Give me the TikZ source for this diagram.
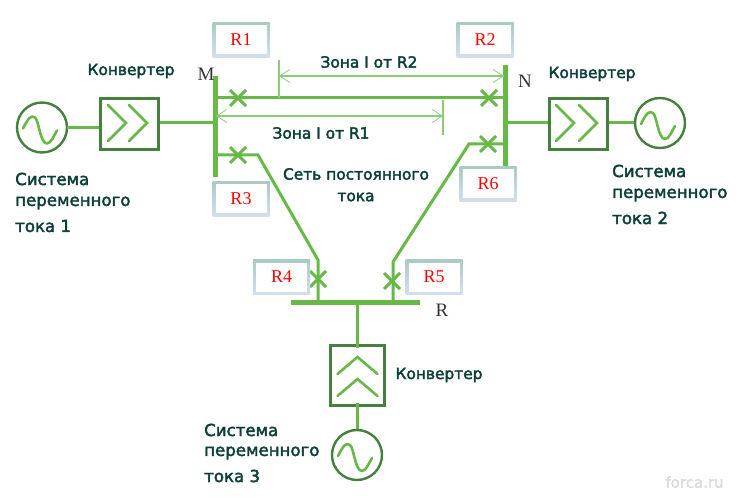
\documentclass[tikz,border=0pt]{standalone}
\usepackage{fontspec}
\setmainfont{DejaVu Sans}
\newfontfamily\serifface{Liberation Serif}
\newfontfamily\labelface[FakeBold=2.4]{DejaVu Sans}
\usetikzlibrary{arrows.meta}
\definecolor{wire}{HTML}{68B848}
\definecolor{darkbox}{HTML}{46803F}
\definecolor{inktext}{HTML}{0B3F38}
\definecolor{relaytop}{HTML}{A9CBC3}
\definecolor{relaybot}{HTML}{D3E0EF}
\definecolor{zone}{HTML}{8CCB7A}
\tikzset{
  wireline/.style={draw=wire,line width=3pt},
  busbar/.style={draw=wire,line width=5pt},
  breaker/.style={draw=wire,line width=3pt},
  convbox/.style={draw=darkbox,line width=2.4pt,fill=white,minimum width=58pt,minimum height=51pt,inner sep=0pt},
  acsource/.style={circle,draw=darkbox,line width=2.4pt,fill=white,minimum size=50pt,inner sep=0pt},
  relaybox/.style={top color=relaytop,bottom color=relaybot,minimum width=57pt,minimum height=35pt,inner sep=0pt,text=red,font=\serifface\fontsize{18}{18}\selectfont,
    path picture={\fill[white] ([shift={(3,3)}]path picture bounding box.north west) rectangle ([shift={(-3,-3)}]path picture bounding box.south east);}},
  caption/.style={text=inktext,font=\labelface\fontsize{15.4}{15.4}\selectfont,inner sep=0pt},
  sysline/.style={text=inktext,font=\labelface\fontsize{16.6}{16.6}\selectfont,inner sep=0pt,anchor=west},
  buslabel/.style={text=black!80,inner sep=0pt,font=\serifface\fontsize{19}{19}\selectfont},
  zoneline/.style={draw=zone,line width=1.1pt},
  zonearrow/.style={zoneline,-{Straight Barb[length=10pt,width=13pt,line width=.8pt]}},
}
% Cross marking a breaker on a line
\newcommand{\breakermark}[1]{\draw[breaker] ([shift={(-8,-8)}]#1) -- ([shift={(8,8)}]#1) ([shift={(-8,8)}]#1) -- ([shift={(8,-8)}]#1);}
% Sine wave inside an AC source
\newcommand{\sinewave}[1]{\draw[wire,line width=2.6pt,line cap=round,line join=round,shift={(#1)}]
  (-19,1) .. controls (-14,-9) and (-11,-13) .. (-7,-10) .. controls (-3,-7) and (-2,16) .. (5,16) .. controls (9,16) and (12,8) .. (15,3);}
\newcommand{\chevron}[3]{\draw[wire,line width=2.6pt,line cap=round,shift={(#1)}] #2 -- (0,0) -- #3;}
\begin{document}
\begin{tikzpicture}[x=1pt,y=-1pt]
\useasboundingbox (0,0) rectangle (739,497);

% Buses
\coordinate (mtop) at (215,76); \coordinate (mbot) at (215,177);
\coordinate (ntop) at (505,65); \coordinate (nbot) at (505,166);
\coordinate (rleft) at (291,302.5); \coordinate (rright) at (420,302.5);
\coordinate (m1) at (215,98);  \coordinate (n1) at (505,98);
\coordinate (m2) at (215,123); \coordinate (n2) at (505,123);
\coordinate (m3) at (215,155); \coordinate (n3) at (505,144);
\coordinate (r4) at (318,302.5); \coordinate (r5) at (393,302.5);
\coordinate (r0) at (357,302.5);
\coordinate (bend3) at (258,155); \coordinate (bend4) at (318,260);
\coordinate (bend6) at (469,144); \coordinate (bend5) at (393,262);

% Converters and sources
\node[acsource] (s1) at (42,127.5) {};
\node[convbox] (c1) at (129.5,124) {};
\node[acsource] (s2) at (660,123) {};
\node[convbox] (c2) at (578.5,124) {};
\node[acsource] (s3) at (357,455) {};
\node[convbox,minimum width=54pt,minimum height=60pt] (c3) at (357.5,375.5) {};

% Lines
\draw[wireline] (s1) ++(25,0) -- (s1-|c1.west);
\draw[wireline] (m2) -- (m2-|c1.east);
\draw[wireline] (n2) -- (n2-|c2.west);
\draw[wireline] (n2-|c2.east) -- (s2.west);
\draw[wireline] (m1) -- (n1);
\draw[wireline] (m3) -- (bend3) -- (bend4) -- (r4);
\draw[wireline] (n3) -- (bend6) -- (bend5) -- (r5);
\draw[wireline] (r0) -- ([yshift=-4pt]r0|-c3.north);
\draw[wireline] ([xshift=-.5pt,yshift=4pt]c3.south) -- (s3.north);
\draw[busbar] (mtop) -- (mbot);
\draw[busbar] (ntop) -- (nbot);
\draw[busbar] (rleft) -- (rright);

% Breakers
\coordinate (b1) at (238,98);  \breakermark{b1}
\coordinate (b2) at (489,98);  \breakermark{b2}
\coordinate (b3) at (238,155); \breakermark{b3}
\coordinate (b4) at (318,279); \breakermark{b4}
\coordinate (b5) at (392,281); \breakermark{b5}
\coordinate (b6) at (488,144); \breakermark{b6}

% Sine waves
\sinewave{s1}
\sinewave{s2}
\sinewave{s3}

% Converter symbols
\foreach \a in {126,147}{\coordinate (p) at (\a,123); \chevron{p}{(-18,-18)}{(-18,18)}}
\foreach \a in {574,597}{\coordinate (p) at (\a,123); \chevron{p}{(-18,-18)}{(-18,18)}}
\foreach \a in {357,379}{\coordinate (p) at (357.5,\a); \chevron{p}{(-20,17)}{(20,17)}}

% Relay boxes
\node[relaybox] (R1) at (241,40) {R1};
\node[relaybox] (R2) at (485,40) {R2};
\node[relaybox] (R3) at (241,199) {R3};
\node[relaybox] (R4) at (281.5,277) {R4};
\node[relaybox] (R5) at (434,277) {R5};
\node[relaybox] (R6) at (488,184) {R6};

% Protection zones
\coordinate (z2a) at (279,76); \coordinate (z2b) at (504,76);
\coordinate (z1a) at (443,116); \coordinate (z1b) at (216,116);
\draw[zoneline] (279,60) -- (279,98);
\draw[zoneline] (443,100) -- (443,135);
\draw[zonearrow] (z2a) -- (z2b);
\draw[zonearrow] (z2b) -- (z2a);
\draw[zonearrow] (z1a) -- (z1b);
\draw[zonearrow] (z1b) -- (z1a);

% Text
\node[caption] (t1) at (131,71) {Конвертер};
\node[caption] (t2) at (592,74) {Конвертер};
\node[caption] (t3) at (439,375) {Конвертер};
\node[caption] (z2) at (369,62) {Зона I от R2};
\node[caption] (z1) at (321,133) {Зона I от R1};
\node[caption] (d1) at (356,174) {Сеть постоянного};
\node[caption] (d2) at (356,197) {тока};
\node[sysline] (a1) at (15,179) {Система};
\node[sysline] (a2) at (15,203) {переменного};
\node[sysline] (a3) at (15,226) {тока 1};
\node[sysline] (e1) at (612,171) {Система};
\node[sysline] (e2) at (612,195) {переменного};
\node[sysline] (e3) at (612,218) {тока 2};
\node[sysline] (f1) at (204,430) {Система};
\node[sysline] (f2) at (204,453) {переменного};
\node[sysline] (f3) at (204,476) {тока 3};
\node[buslabel] (M) at (206,74) {M};
\node[buslabel] (N) at (525,81) {N};
\node[buslabel] (Rl) at (442,310) {R};
\node[text=black!14,inner sep=0pt,font=\labelface\fontsize{15}{15}\selectfont] (w) at (694.5,482) {forca.ru};
\end{tikzpicture}
\end{document}
